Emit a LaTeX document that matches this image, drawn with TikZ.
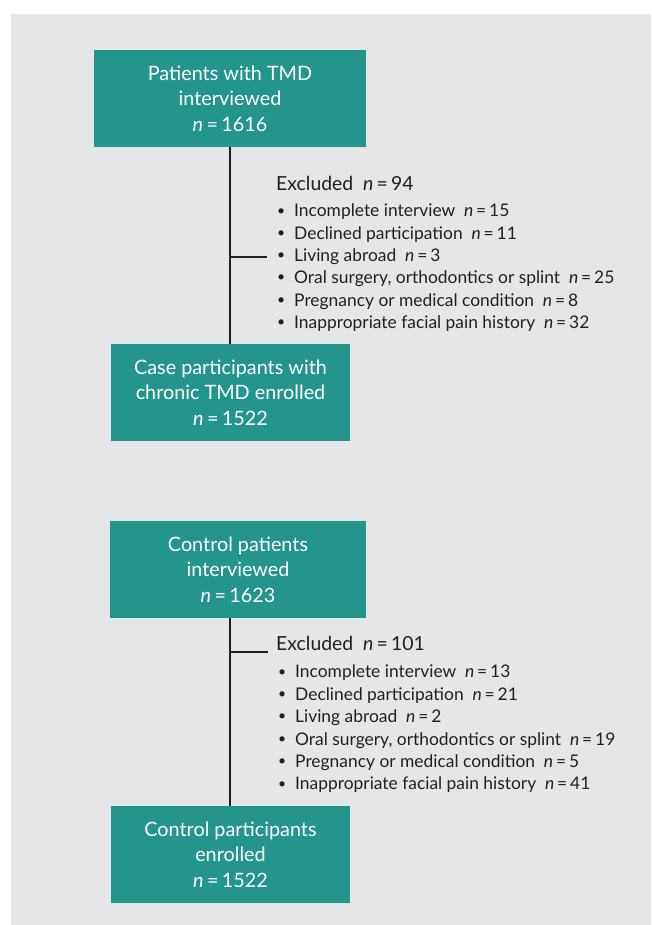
\documentclass[tikz,border=0pt]{standalone}
\usepackage{fontspec}
\setmainfont{Lato}
\definecolor{tealbox}{HTML}{23958C}
\definecolor{bggray}{HTML}{E5E6E8}
\definecolor{ink}{HTML}{231F20}
\newcommand{\nn}[1]{\textit{n}\,=\,#1}
\newcommand{\bul}{\makebox[17pt][l]{\raisebox{0.1em}{\scalebox{0.8}{•}}}}
\begin{document}
\begin{tikzpicture}[x=1pt,y=-1pt,
  box/.style={fill=tealbox, text=white, align=center, inner sep=0pt,
    font=\fontsize{19.8}{25.5}\selectfont},
  head/.style={anchor=west, inner sep=0pt, text=ink, font=\fontsize{19.4}{20}\selectfont},
  item/.style={anchor=west, inner sep=0pt, text=ink, font=\fontsize{17.4}{20}\selectfont},
  link/.style={draw=ink, line width=1.8pt}]
\useasboundingbox (0,0) rectangle (651,925);
\fill[white] (0,0) rectangle (651,925);
\fill[bggray] (11,14) rectangle (651,925);

\node[box, minimum width=272pt, minimum height=97pt] (b1) at (230,98.5)
  {Patients with TMD\\interviewed\\\nn{1616}};
\node[box, minimum width=239pt, minimum height=97pt] (b2) at (230.5,392.5)
  {Case participants with\\chronic TMD enrolled\\\nn{1522}};
\node[box, minimum width=256pt, minimum height=97pt] (b3) at (238,569.5)
  {Control patients\\interviewed\\\nn{1623}};
\node[box, minimum width=239pt, minimum height=97pt] (b4) at (230.5,854.5)
  {Control participants\\enrolled\\\nn{1522}};

\coordinate (j1) at (230,257);
\coordinate (e1) at (267,257);
\coordinate (j2) at (230,652);
\coordinate (e2) at (268,652);
\draw[link] (b1.south) -- (b1.south |- b2.north);
\draw[link] (b3.south -| b1.south) -- (b1.south |- b4.north);
\draw[link] (j1) -- (e1);
\draw[link] (j2) -- (e2);

\node[head] (h1) at (276,183) {Excluded\ \ \nn{94}};
\node[item] (a1) at (277,212) {\bul Incomplete interview\ \ \nn{15}};
\node[item] (a2) at (277,234.3) {\bul Declined participation\ \ \nn{11}};
\node[item] (a3) at (277,256.6) {\bul Living abroad\ \ \nn{3}};
\node[item] (a4) at (277,278.9) {\bul Oral surgery, orthodontics or splint\ \ \nn{25}};
\node[item] (a5) at (277,301.2) {\bul Pregnancy or medical condition\ \ \nn{8}};
\node[item] (a6) at (277,323.5) {\bul Inappropriate facial pain history\ \ \nn{32}};

\node[head] (h2) at (276,643) {Excluded\ \ \nn{101}};
\node[item] (c1) at (278,673) {\bul Incomplete interview\ \ \nn{13}};
\node[item] (c2) at (278,695.4) {\bul Declined participation\ \ \nn{21}};
\node[item] (c3) at (278,717.8) {\bul Living abroad\ \ \nn{2}};
\node[item] (c4) at (278,740.2) {\bul Oral surgery, orthodontics or splint\ \ \nn{19}};
\node[item] (c5) at (278,762.6) {\bul Pregnancy or medical condition\ \ \nn{5}};
\node[item] (c6) at (278,785) {\bul Inappropriate facial pain history\ \ \nn{41}};
\end{tikzpicture}
\end{document}
